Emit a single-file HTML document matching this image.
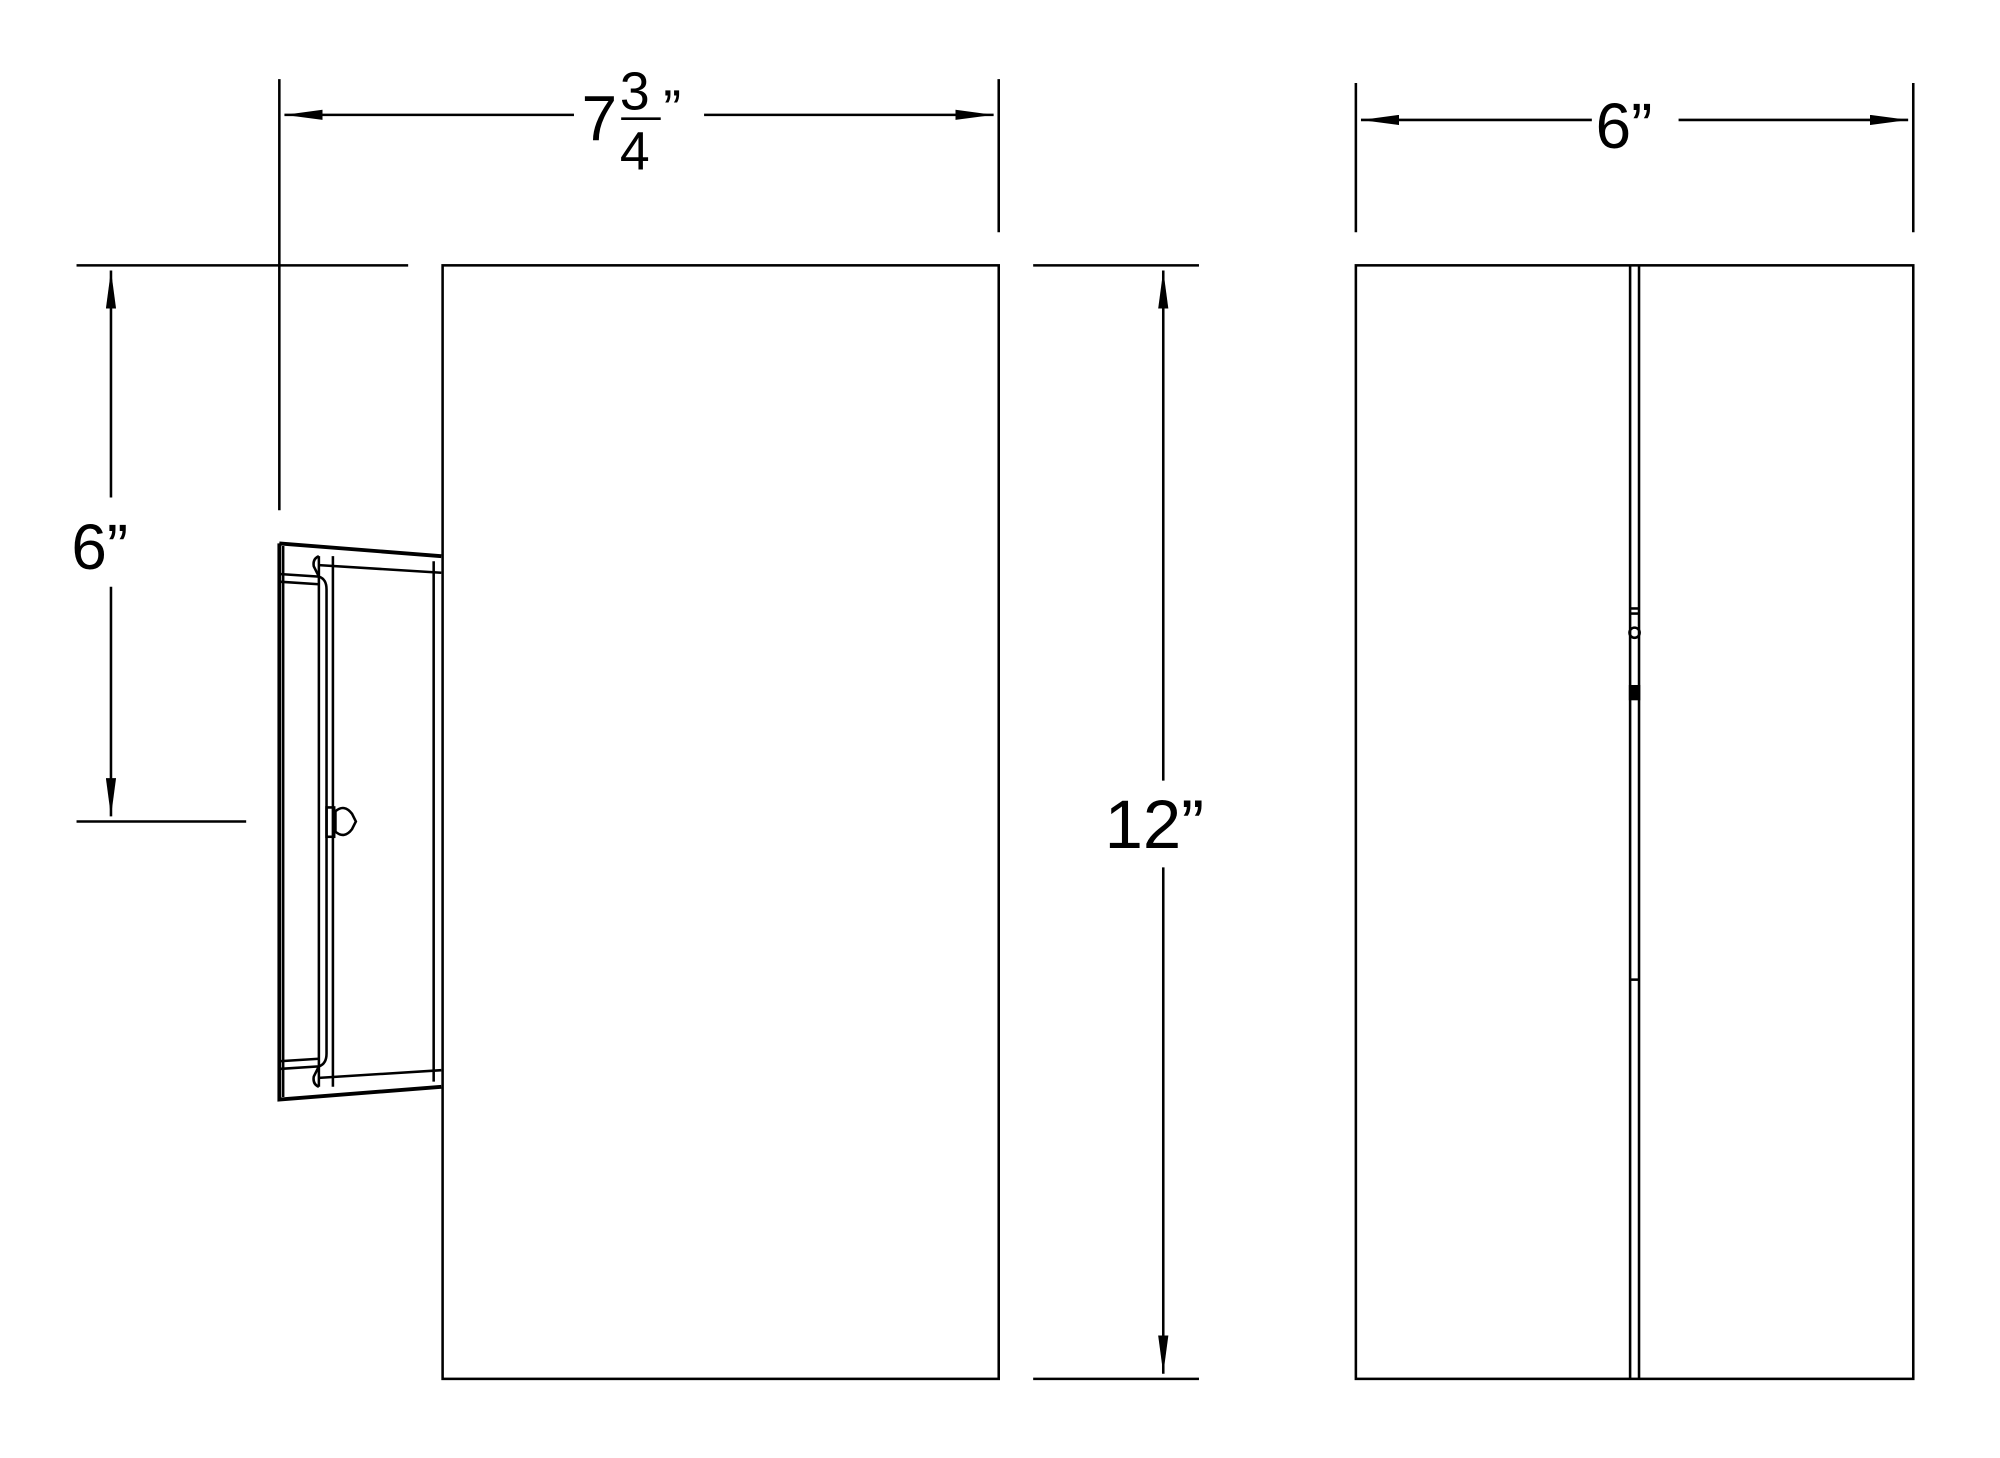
<!DOCTYPE html>
<html><head><style>html,body{margin:0;padding:0;background:#fff}svg{display:block}</style></head>
<body>
<svg width="2000" height="1458" viewBox="0 0 1568 1143" xmlns="http://www.w3.org/2000/svg">
<defs>
<marker id="a" viewBox="0 0 30 8" refX="30" refY="4" markerWidth="30" markerHeight="8" markerUnits="userSpaceOnUse" orient="auto"><path d="M0,0 L30,4 L0,8 Z" fill="#000"/></marker>
</defs>
<g stroke="#000" stroke-width="2" fill="none">
<line x1="219" y1="62" x2="219" y2="400"/>
<line x1="783" y1="62" x2="783" y2="182"/>
<line x1="450" y1="90" x2="223" y2="90" marker-end="url(#a)"/>
<line x1="552" y1="90" x2="779" y2="90" marker-end="url(#a)"/>
<line x1="60" y1="208" x2="320" y2="208"/>
<line x1="60" y1="644" x2="193" y2="644"/>
<line x1="87" y1="390" x2="87" y2="212" marker-end="url(#a)"/>
<line x1="87" y1="460" x2="87" y2="640" marker-end="url(#a)"/>
<rect x="347" y="208" width="436" height="873"/>
<line x1="810" y1="208" x2="940" y2="208"/>
<line x1="810" y1="1081" x2="940" y2="1081"/>
<line x1="912" y1="612" x2="912" y2="212" marker-end="url(#a)"/>
<line x1="912" y1="680" x2="912" y2="1077" marker-end="url(#a)"/>
<path d="M219,426 L346,436 M219,426 L219,862 L346,852" stroke-width="3"/>
<line x1="222" y1="428" x2="222" y2="860"/>
<path d="M219,450 L250,452 Q256,454 256,462 L256,826 Q256,834 250,836 L219,838"/>
<line x1="219" y1="456" x2="250" y2="458"/>
<line x1="219" y1="832" x2="250" y2="830"/>
<path d="M250,436 Q245,438 246,444 L250,452 M250,852 Q245,850 246,844 L250,836"/>
<line x1="250" y1="436" x2="250" y2="852"/>
<line x1="261" y1="436" x2="261" y2="852"/>
<line x1="250" y1="443" x2="346" y2="449"/>
<line x1="250" y1="845" x2="346" y2="839"/>
<line x1="340" y1="440" x2="340" y2="848"/>
<rect x="256" y="633" width="6" height="23"/>
<path d="M263,636 Q270,630 276,638 L279,644 L276,650 Q270,658 263,652 Z"/>
<line x1="1063" y1="65" x2="1063" y2="182"/>
<line x1="1500" y1="65" x2="1500" y2="182"/>
<line x1="1248" y1="94" x2="1067" y2="94" marker-end="url(#a)"/>
<line x1="1316" y1="94" x2="1496" y2="94" marker-end="url(#a)"/>
<rect x="1063" y="208" width="437" height="873"/>
<line x1="1278" y1="208" x2="1278" y2="1081"/>
<line x1="1285" y1="208" x2="1285" y2="1081"/>
<line x1="1278" y1="477" x2="1285" y2="477"/>
<line x1="1278" y1="481" x2="1285" y2="481"/>
<circle cx="1281.5" cy="496" r="4"/>
<rect x="1278" y="538" width="7" height="10" fill="#000"/>
<line x1="1278" y1="768" x2="1285" y2="768"/>
</g>
<g font-family="Liberation Sans, sans-serif" fill="#000">
<text x="456" y="110" font-size="50">7</text>
<text x="486" y="86" font-size="42">3</text>
<line x1="487" y1="93" x2="518" y2="93" stroke="#000" stroke-width="2"/>
<text x="486" y="133" font-size="42">4</text>
<text x="520" y="100" font-size="42">”</text>
<text x="56" y="446" font-size="50">6”</text>
<text x="866" y="665" font-size="54">12”</text>
<text x="1251" y="116" font-size="50">6”</text>
</g>
</svg>
</body></html>
